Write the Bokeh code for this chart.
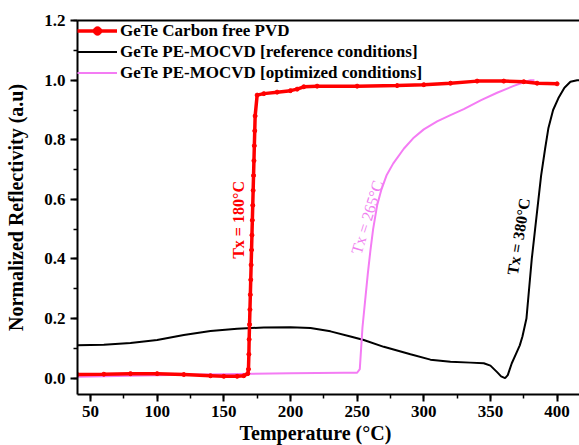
import math
from bokeh.plotting import figure
from bokeh.models import (Range1d, SingleIntervalTicker, PrintfTickFormatter,
                          Legend, LegendItem, Label, Title, LinearAxis)
from bokeh.embed import file_html
from bokeh.resources import INLINE

# --- data ---
red_x = [40, 60, 80, 100, 120, 140, 150, 160, 165, 168, 168.5, 168.8, 169.0, 169.3,
         169.6, 169.9, 170.2, 170.5, 170.8, 171.1, 171.4, 171.7, 172.0, 172.3, 172.6,
         172.9, 173.2, 173.5, 175, 180, 190, 200, 205, 210, 220, 250, 280, 300, 320,
         340, 360, 375, 385, 400]
red_y = [0.012, 0.013, 0.015, 0.015, 0.012, 0.008, 0.006, 0.006, 0.008, 0.015, 0.03,
         0.08, 0.13, 0.18, 0.23, 0.28, 0.33, 0.38, 0.43, 0.48, 0.53, 0.58, 0.63, 0.68,
         0.73, 0.78, 0.83, 0.88, 0.95, 0.955, 0.96, 0.965, 0.97, 0.978, 0.98, 0.98,
         0.982, 0.985, 0.99, 0.997, 0.997, 0.995, 0.99, 0.988]

black_x = [40, 60, 80, 100, 120, 140, 160, 180, 200, 215, 230, 245, 255, 270, 290, 305,
           320, 335, 345, 350, 355, 358, 361, 363, 366, 369, 372, 374, 377, 379, 381,
           383.5, 386, 388, 391, 393.5, 397, 401, 405.5, 410, 415, 417]
black_y = [0.11, 0.112, 0.118, 0.128, 0.145, 0.158, 0.166, 0.17, 0.171, 0.168, 0.157,
           0.14, 0.128, 0.105, 0.08, 0.062, 0.055, 0.052, 0.05, 0.042, 0.02, 0.006, 0.0,
           0.01, 0.05, 0.08, 0.11, 0.14, 0.2, 0.3, 0.4, 0.5, 0.6, 0.68, 0.77, 0.84, 0.9,
           0.94, 0.975, 0.995, 1.0, 1.0]

pink_x = [40, 80, 120, 160, 200, 240, 250, 252, 253, 254, 256, 258, 260, 262, 265, 268,
          272, 277, 285, 292, 300, 310, 320, 330, 343, 355, 367, 375, 380, 383]
pink_y = [0.005, 0.008, 0.011, 0.014, 0.016, 0.018, 0.018, 0.03, 0.1, 0.17, 0.26, 0.35,
          0.43, 0.5, 0.58, 0.63, 0.68, 0.72, 0.77, 0.805, 0.835, 0.862, 0.883, 0.903,
          0.933, 0.958, 0.98, 0.993, 1.0, 1.0]

series_labels = ["GeTe Carbon free PVD",
                 "GeTe PE-MOCVD [reference conditions]",
                 "GeTe PE-MOCVD [optimized conditions]"]
tx_texts = ["Tx = 180°C", "Tx = 265°C", "Tx = 380°C"]
tx_x = [161, 257.5, 371]
tx_y = [0.531, 0.54, 0.475]
tx_angle_deg = [90, 73, 81]

x_title = "Temperature (°C)"
y_title = "Normalized Reflectivity (a.u)"

RED = "#ff0000"
BLACK = "#000000"
PINK = "#f47cf4"
PINK_TEXT = "#f07ef0"
FONT = "Liberation Serif"

p = figure(width=579, height=445, output_backend="svg", toolbar_location=None,
           x_range=Range1d(40.25, 416.8), y_range=Range1d(-0.055, 1.2005),
           min_border_left=77, min_border_right=0, min_border_top=20,
           min_border_bottom=51)
p.outline_line_color = None
p.grid.visible = False
p.background_fill_color = "white"
p.border_fill_color = "white"

bl = p.line(black_x, black_y, line_color=BLACK, line_width=2)
pl = p.line(pink_x, pink_y, line_color=PINK, line_width=2)
rl = p.line(red_x, red_y, line_color=RED, line_width=3.5)
rs = p.scatter(red_x, red_y, marker="circle", size=4, color=RED)

for t, x, y, a, c in zip(tx_texts, tx_x, tx_y, tx_angle_deg, [RED, PINK_TEXT, BLACK]):
    p.add_layout(Label(x=x, y=y, text=t, angle=math.radians(a), text_align="center",
                       text_baseline="middle", text_font=FONT, text_font_size="16px",
                       text_font_style="normal" if c == PINK_TEXT else "bold",
                       text_color=c))

# axes
xa = p.xaxis[0]
xa.ticker = SingleIntervalTicker(interval=50, num_minor_ticks=2)
ya = p.yaxis[0]
ya.ticker = SingleIntervalTicker(interval=0.2, num_minor_ticks=2)
ya.formatter = PrintfTickFormatter(format="%.1f")
for ax in (xa, ya):
    ax.axis_line_width = 2
    ax.major_tick_line_width = 2
    ax.minor_tick_line_width = 1.5
    ax.major_tick_out = 7
    ax.major_tick_in = 0
    ax.minor_tick_out = 4
    ax.minor_tick_in = 0
    ax.major_label_text_font = FONT
    ax.major_label_text_font_style = "bold"
    ax.major_label_text_font_size = "17px"
    ax.major_label_text_color = "black"
    ax.axis_label_text_font = FONT
    ax.axis_label_text_font_style = "bold"
    ax.axis_label_text_font_size = "20px"
    ax.axis_label_text_color = "black"
xa.major_label_standoff = 4
ya.major_label_standoff = 5
ya.axis_label = y_title
ya.axis_label_standoff = 14

# top spine
top = LinearAxis(axis_line_width=2, major_tick_out=0, major_tick_in=0,
                 minor_tick_out=0, minor_tick_in=0, major_label_text_font_size="0px",
                 major_label_text_alpha=0, major_label_standoff=0)
p.add_layout(top, "above")

# x-axis title, offset to match the reference position
p.add_layout(Title(text=x_title, align="left", offset=162, standoff=0,
                   text_font=FONT, text_font_size="20px", text_font_style="bold",
                   text_color="black"), "below")

legend = Legend(items=[LegendItem(label=series_labels[0], renderers=[rl, rs]),
                       LegendItem(label=series_labels[1], renderers=[bl]),
                       LegendItem(label=series_labels[2], renderers=[pl])],
                location="top_left", margin=0, padding=0, spacing=0,
                glyph_width=40, glyph_height=21, label_height=21, label_standoff=3,
                label_text_font=FONT, label_text_font_style="bold",
                label_text_font_size="17px", label_text_color="black",
                border_line_color=None, background_fill_alpha=0)
p.add_layout(legend)

open("out.html", "w").write(file_html(p, INLINE))
